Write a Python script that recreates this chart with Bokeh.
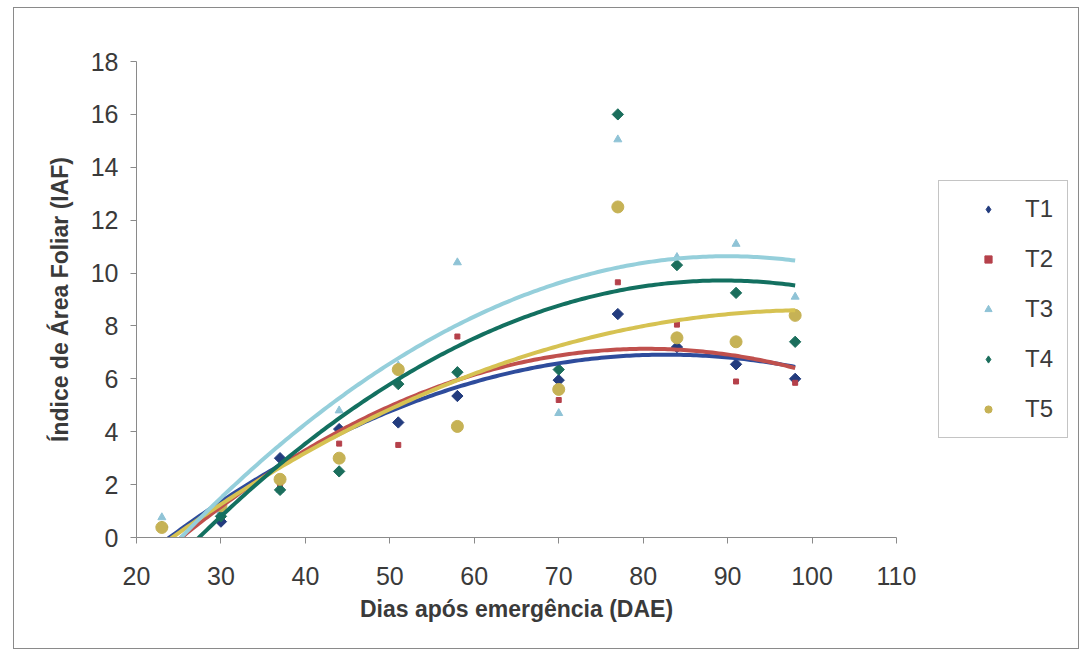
import numpy as np
from bokeh.plotting import figure
from bokeh.layouts import row
from bokeh.models import Range1d, Legend, LegendItem, FixedTicker
from bokeh.embed import file_html
from bokeh.resources import INLINE

dae = [23, 30, 37, 44, 51, 58, 70, 77, 84, 91, 98]
t1 = [0.4, 0.6, 3.0, 4.1, 4.35, 5.35, 5.95, 8.45, 7.2, 6.55, 6.0]
t2 = [0.4, 1.0, 2.0, 3.55, 3.5, 7.6, 5.2, 9.65, 8.05, 5.9, 5.85]
t3 = [0.76, 1.0, 1.8, 4.8, 6.5, 10.4, 4.7, 15.05, 10.6, 11.1, 9.1]
t4 = [0.4, 0.8, 1.8, 2.5, 5.8, 6.25, 6.35, 16.0, 10.3, 9.25, 7.4]
t5 = [0.38, 1.2, 2.2, 3.0, 6.35, 4.2, 5.6, 12.5, 7.55, 7.4, 8.4]
names = ["T1", "T2", "T3", "T4", "T5"]
x_ticks = [20, 30, 40, 50, 60, 70, 80, 90, 100, 110]
y_ticks = [0, 2, 4, 6, 8, 10, 12, 14, 16, 18]

series = [t1, t2, t3, t4, t5]
marker_col = ["#233C7E", "#B5404A", "#8FC3D6", "#1B6E5C", "#C6B255"]
line_col = ["#2E4C9C", "#C0504D", "#95CFDB", "#137060", "#D6C252"]
markers = ["square", "square", "triangle", "square", "circle"]
legend_markers = ["diamond", "square", "triangle", "diamond", "circle"]
angles = [np.pi / 4, 0, 0, np.pi / 4, 0]
sizes = [8, 5, 8, 8, 12]
FONT = "Liberation Sans"

p = figure(width=902, height=640, output_backend="svg", toolbar_location=None,
           x_range=Range1d(20, 110), y_range=Range1d(0, 18),
           min_border_left=122, min_border_right=20, min_border_top=53, min_border_bottom=111)
p.outline_line_color = None
p.xgrid.grid_line_color = None
p.ygrid.grid_line_color = None
p.background_fill_color = "white"

for ax in (p.xaxis[0], p.yaxis[0]):
    ax.axis_line_color = "#8a8a8a"
    ax.major_tick_line_color = "#8a8a8a"
    ax.major_tick_out = 6
    ax.major_tick_in = 0
    ax.minor_tick_line_color = None
    ax.major_label_text_font = FONT
    ax.major_label_text_font_size = "25px"
    ax.major_label_text_color = "#3a3a3a"
    ax.axis_label_text_font = FONT
    ax.axis_label_text_font_size = "23px"
    ax.axis_label_text_font_style = "bold"
    ax.axis_label_text_color = "#3a3a3a"
p.xaxis.ticker = FixedTicker(ticks=x_ticks)
p.yaxis.ticker = FixedTicker(ticks=y_ticks)
p.xaxis.axis_label = "Dias após emergência (DAE)"
p.yaxis.axis_label = "Índice de Área Foliar (IAF)"
p.xaxis.major_label_standoff = 23
p.yaxis.major_label_standoff = 12
p.xaxis.axis_label_standoff = 8
p.yaxis.axis_label_standoff = 15

xs = np.array(dae, dtype=float)
xfit = np.linspace(min(dae), max(dae), 200)
for i, ys in enumerate(series):
    p.scatter(dae, ys, marker=markers[i], size=sizes[i], angle=angles[i],
              fill_color=marker_col[i], line_color=marker_col[i])
# trend lines (2nd-order polynomial fit, as in the original spreadsheet chart)
for i in [0, 1, 4, 3, 2]:
    c = np.polyfit(xs, np.array(series[i], dtype=float), 2)
    p.line(xfit, np.polyval(c, xfit), line_color=line_col[i], line_width=4)

# legend panel (its own series renderers fall outside its 0..1 ranges, so only the legend shows)
q = figure(width=162, height=640, output_backend="svg", toolbar_location=None,
           x_range=Range1d(0, 1), y_range=Range1d(0, 1),
           min_border_left=22, min_border_right=0, min_border_top=53, min_border_bottom=111)
q.axis.visible = False
q.grid.visible = False
q.outline_line_color = None
items = []
for i in range(5):
    r = q.scatter(dae, series[i], marker=legend_markers[i], size=sizes[i],
                  fill_color=marker_col[i], line_color=marker_col[i])
    items.append(LegendItem(label=names[i], renderers=[r]))
legend = Legend(items=items, location=(0, 99), orientation="vertical",
                border_line_color="#8a8a8a", border_line_width=1,
                label_text_font=FONT, label_text_font_size="24px",
                label_text_color="#3a3a3a", glyph_width=70, glyph_height=18,
                label_height=26, spacing=22, padding=14, margin=0, label_standoff=2,
                background_fill_color="white", background_fill_alpha=1)
q.add_layout(legend, "center")

lay = row(p, q)
lay.styles = {"margin-left": "13px", "margin-top": "7px", "border": "1px solid #8a8a8a"}

open("out.html", "w").write(file_html(lay, INLINE))
